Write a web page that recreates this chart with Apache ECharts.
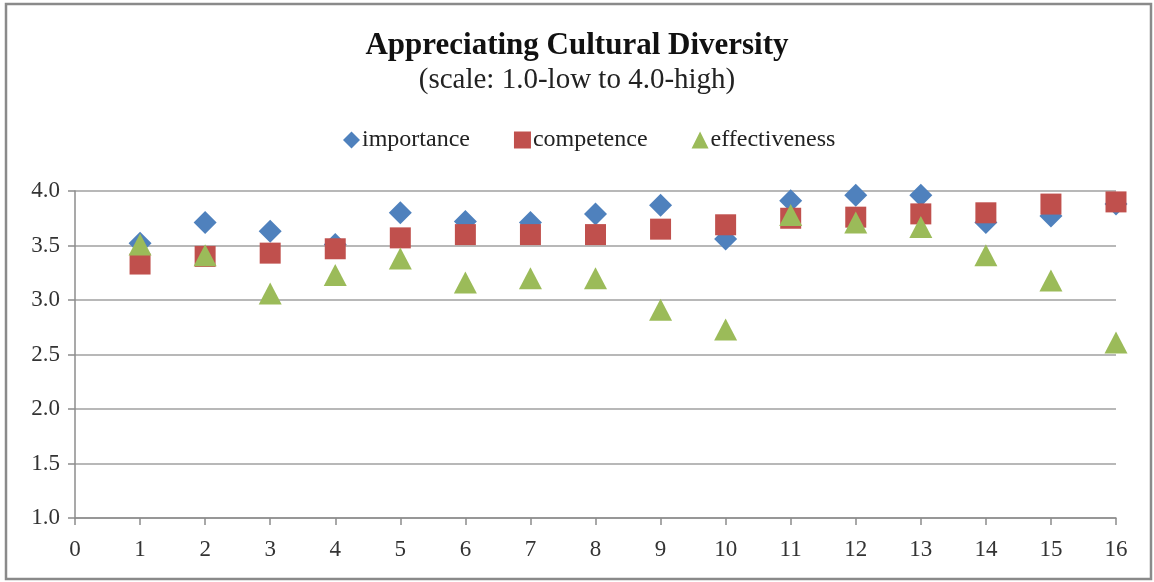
<!DOCTYPE html>
<html>
<head>
<meta charset="utf-8">
<script src="https://cdn.jsdelivr.net/npm/echarts@6/dist/echarts.min.js"></script>
<style>
  html, body { margin: 0; padding: 0; background: #fff; }
  #chart { width: 1154px; height: 582px; }
</style>
</head>
<body>
<div id="chart"></div>
<script>
// item numbers 1..16
const items = [1, 2, 3, 4, 5, 6, 7, 8, 9, 10, 11, 12, 13, 14, 15, 16];
const importance = [3.52, 3.71, 3.63, 3.51, 3.80, 3.72, 3.71, 3.79, 3.87, 3.56, 3.91, 3.96, 3.96, 3.71, 3.77, 3.88];
const competence = [3.33, 3.40, 3.43, 3.47, 3.57, 3.60, 3.60, 3.60, 3.65, 3.69, 3.75, 3.76, 3.79, 3.80, 3.88, 3.90];
const effectiveness = [3.51, 3.41, 3.06, 3.23, 3.38, 3.16, 3.20, 3.20, 2.91, 2.73, 3.78, 3.71, 3.67, 3.41, 3.18, 2.61];

const serif = '"Liberation Serif", "DejaVu Serif", serif';

function pairs(values) {
    return items.map((x, i) => [x, values[i]]);
}

const chart = echarts.init(document.getElementById('chart'));

const option = {
    backgroundColor: '#fff',
    animation: false,
    title: {
        text: 'Appreciating Cultural Diversity',
        subtext: '(scale: 1.0-low to 4.0-high)',
        left: 'center',
        top: 25,
        itemGap: 5,
        textStyle: { fontFamily: serif, fontSize: 31, fontWeight: 'bold', color: '#111' },
        subtextStyle: { fontFamily: serif, fontSize: 29, color: '#222' }
    },
    legend: {
        top: 123,
        left: 338,
        itemGap: 44,
        itemWidth: 17,
        itemHeight: 17,
        textStyle: { fontFamily: serif, fontSize: 24, color: '#222', padding: [0, 0, 0, -3] },
        data: [
            { name: 'importance', icon: 'diamond' },
            { name: 'competence', icon: 'rect' },
            { name: 'effectiveness', icon: 'triangle' }
        ]
    },
    grid: { left: 75, right: 38, top: 191, bottom: 64 },
    xAxis: {
        type: 'value',
        min: 0,
        max: 16,
        interval: 1,
        axisLine: { lineStyle: { color: '#8c8c8c', width: 1.5 } },
        axisTick: { show: true, length: 7, lineStyle: { color: '#8c8c8c', width: 1.5 } },
        splitLine: { show: false },
        axisLabel: { fontFamily: serif, fontSize: 23, color: '#333', margin: 20 }
    },
    yAxis: {
        type: 'value',
        min: 1,
        max: 4,
        interval: 0.5,
        axisLine: { show: true, lineStyle: { color: '#8c8c8c', width: 1.5 } },
        axisTick: { show: true, length: 7, lineStyle: { color: '#8c8c8c', width: 1.5 } },
        splitLine: { show: true, lineStyle: { color: '#a0a0a0', width: 1.5 } },
        axisLabel: {
            fontFamily: serif, fontSize: 23, color: '#333', margin: 15,
            formatter: v => v.toFixed(1)
        }
    },
    series: [
        {
            name: 'importance',
            type: 'scatter',
            symbol: 'diamond',
            symbolSize: [23, 23],
            itemStyle: { color: '#4F81BD', opacity: 1 },
            data: pairs(importance)
        },
        {
            name: 'competence',
            type: 'scatter',
            symbol: 'rect',
            symbolSize: 21,
            itemStyle: { color: '#C0504D', opacity: 1 },
            data: pairs(competence)
        },
        {
            name: 'effectiveness',
            type: 'scatter',
            symbol: 'triangle',
            symbolSize: [23, 22],
            itemStyle: { color: '#9BBB59', opacity: 1 },
            data: pairs(effectiveness)
        }
    ],
    graphic: [{
        type: 'rect',
        shape: { x: 6, y: 4, width: 1145, height: 575 },
        style: { fill: 'none', stroke: '#8a8a8a', lineWidth: 2.5 },
        silent: true
    }]
};

chart.setOption(option);
</script>
</body>
</html>
